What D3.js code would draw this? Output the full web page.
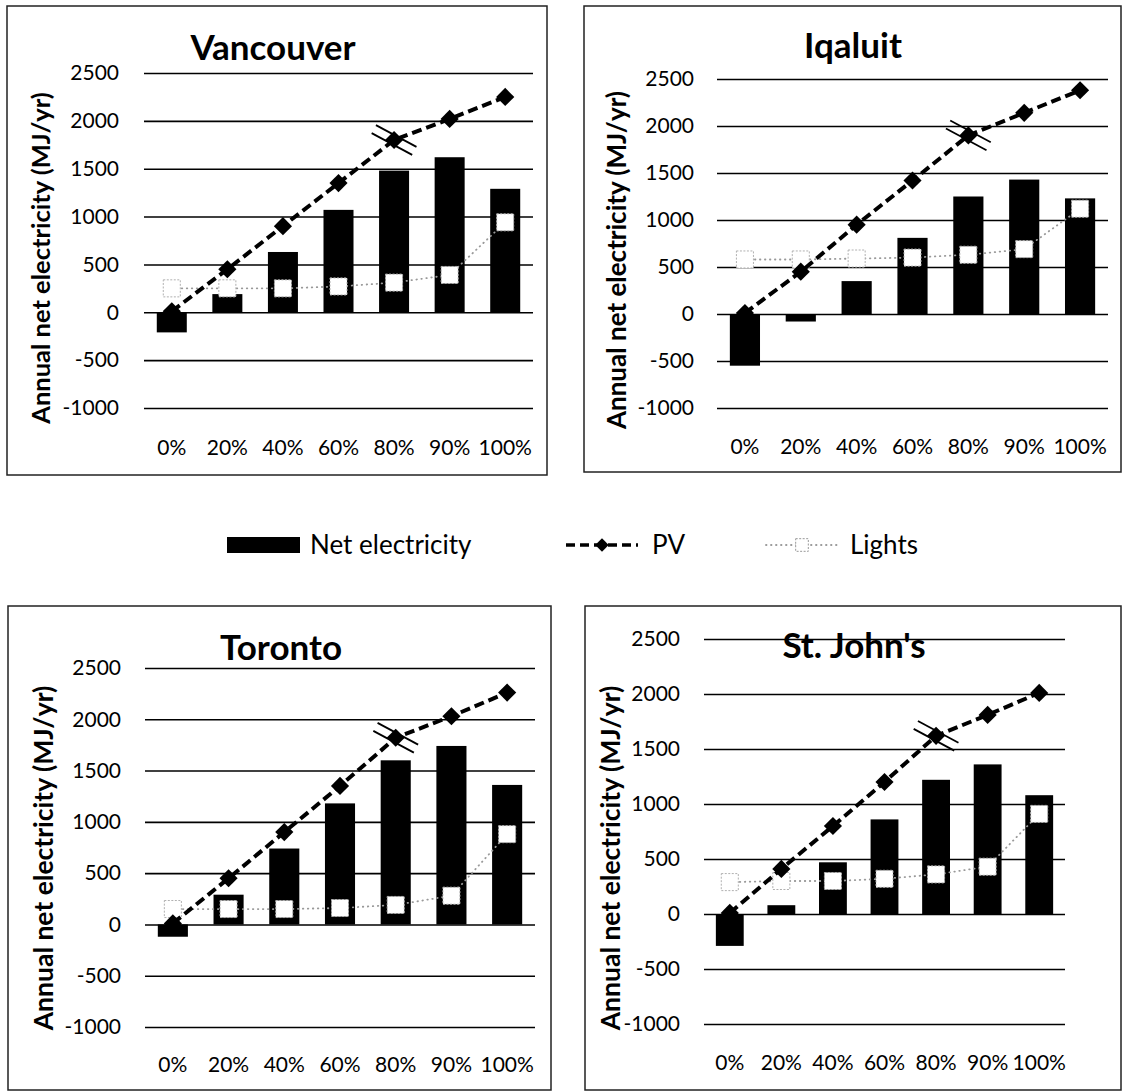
<!DOCTYPE html>
<html>
<head>
<meta charset="utf-8">
<script src="https://cdn.jsdelivr.net/npm/d3@7"></script>
<style>
  body { margin: 0; background: #fff; }
  svg { display: block; }
  text { font-family: Lato, "Open Sans", sans-serif; fill: #000; }
</style>
</head>
<body>
<div id="chart"></div>
<script>
// shading fraction of the window
const categories = ["0%", "20%", "40%", "60%", "80%", "90%", "100%"];
const yTicks = [-1000, -500, 0, 500, 1000, 1500, 2000, 2500];
const seriesNames = ["Net electricity", "PV", "Lights"];

// annual values, MJ/yr
const netVancouver = [-210, 190, 630, 1070, 1480, 1620, 1290];
const pvVancouver = [10, 450, 900, 1350, 1800, 2020, 2250];
const lightsVancouver = [250, 250, 250, 270, 310, 390, 940];

const netIqaluit = [-550, -80, 350, 810, 1250, 1430, 1230];
const pvIqaluit = [10, 450, 950, 1420, 1900, 2140, 2380];
const lightsIqaluit = [580, 580, 590, 600, 630, 690, 1120];

const netToronto = [-120, 290, 740, 1180, 1600, 1740, 1360];
const pvToronto = [10, 450, 900, 1350, 1820, 2030, 2260];
const lightsToronto = [150, 150, 150, 160, 190, 280, 880];

const netStJohns = [-290, 80, 470, 860, 1220, 1360, 1080];
const pvStJohns = [10, 410, 800, 1200, 1620, 1810, 2010];
const lightsStJohns = [290, 300, 300, 320, 360, 430, 910];

const breakAt = "80%";

const panels = [
  { city: "Vancouver", net: netVancouver, pv: pvVancouver, lights: lightsVancouver,
    frame: [7, 6, 547, 475], plot: [144, 533, 73, 408], title: [273, 60],
    yTitle: [41, 258, 25.5], tickRight: 119, xLab: 448 },
  { city: "Iqaluit", net: netIqaluit, pv: pvIqaluit, lights: lightsIqaluit,
    frame: [584, 6, 1121, 472], plot: [717, 1108, 79, 408], title: [853, 58],
    yTitle: [617, 260, 26], tickRight: 694, xLab: 447 },
  { city: "Toronto", net: netToronto, pv: pvToronto, lights: lightsToronto,
    frame: [8, 606, 551, 1090], plot: [145, 535, 668, 1027], title: [281, 660],
    yTitle: [43, 858, 26.5], tickRight: 121, xLab: 1065 },
  { city: "St. John's", net: netStJohns, pv: pvStJohns, lights: lightsStJohns,
    frame: [585, 606, 1121, 1090], plot: [704, 1065, 639, 1024], title: [854, 658],
    yTitle: [610, 858, 26.5], tickRight: 680, xLab: 1063 }
];

const svg = d3.select("#chart").append("svg")
  .attr("width", 1123)
  .attr("height", 1092);

panels.forEach(p => drawPanel(p));
drawLegend();

function drawPanel(p) {
  const [x0, x1, yTop, yBot] = p.plot;
  const g = svg.append("g");

  // frame
  g.append("rect")
    .attr("x", p.frame[0]).attr("y", p.frame[1])
    .attr("width", p.frame[2] - p.frame[0]).attr("height", p.frame[3] - p.frame[1])
    .attr("fill", "none").attr("stroke", "#222").attr("stroke-width", 1.5);

  const x = d3.scaleBand()
    .domain(categories)
    .range([x0, x1])
    .paddingInner(0.46)
    .paddingOuter(0.23);

  const y = d3.scaleLinear()
    .domain([-1000, 2500])
    .range([yBot, yTop]);

  const cx = c => x(c) + x.bandwidth() / 2;

  // Y axis with gridlines
  const yAxis = g.append("g")
    .attr("transform", "translate(" + x0 + ",0)")
    .call(d3.axisLeft(y).tickValues(yTicks).tickFormat(d => String(d))
      .tickSize(-(x1 - x0)).tickPadding(x0 - p.tickRight));
  yAxis.select(".domain").remove();
  yAxis.selectAll("line").attr("stroke", "#000").attr("stroke-width", 1.6);
  yAxis.selectAll("text").attr("font-size", 21).attr("font-family", "Lato").attr("fill", "#000");

  // X axis labels
  const xAxis = g.append("g")
    .attr("transform", "translate(0," + yBot + ")")
    .call(d3.axisBottom(x).tickSize(0).tickPadding(p.xLab - yBot - 8));
  xAxis.select(".domain").remove();
  xAxis.selectAll("text").attr("font-size", 21).attr("font-family", "Lato").attr("fill", "#000");

  // bars
  g.selectAll(".bar")
    .data(p.net)
    .enter()
    .append("rect")
    .attr("x", (d, i) => x(categories[i]))
    .attr("y", d => y(Math.max(0, d)))
    .attr("width", x.bandwidth())
    .attr("height", d => Math.abs(y(d) - y(0)))
    .attr("fill", "#000");

  // lights
  const line = d3.line()
    .x((d, i) => cx(categories[i]))
    .y(d => y(d));

  g.append("path")
    .datum(p.lights)
    .attr("d", line)
    .attr("fill", "none")
    .attr("stroke", "#999")
    .attr("stroke-width", 1.8)
    .attr("stroke-linecap", "round")
    .attr("stroke-dasharray", "0.5,4.5");

  g.selectAll(".light")
    .data(p.lights)
    .enter()
    .append("path")
    .attr("d", d3.symbol().type(d3.symbolSquare).size(290))
    .attr("transform", (d, i) => "translate(" + cx(categories[i]) + "," + y(d) + ")")
    .attr("fill", "#fff")
    .attr("stroke", "#b0b0b0")
    .attr("stroke-width", 1)
    .attr("stroke-dasharray", "2,1.5");

  // PV
  g.append("path")
    .datum(p.pv)
    .attr("d", line)
    .attr("fill", "none")
    .attr("stroke", "#000")
    .attr("stroke-width", 4)
    .attr("stroke-dasharray", "10,5");

  g.selectAll(".pv")
    .data(p.pv)
    .enter()
    .append("path")
    .attr("d", d3.symbol().type(d3.symbolSquare).size(165))
    .attr("transform", (d, i) => "translate(" + cx(categories[i]) + "," + y(d) + ") rotate(45)")
    .attr("fill", "#000");

  // break mark on the PV line
  const bi = categories.indexOf(breakAt);
  const bx = cx(breakAt), by = y(p.pv[bi]);
  const ux = 41 / 46.5, uy = 22 / 46.5;
  [-4.5, 4.5].forEach(o => {
    g.append("line")
      .attr("x1", bx - ux * 23 - uy * o).attr("y1", by - uy * 23 + ux * o)
      .attr("x2", bx + ux * 23 - uy * o).attr("y2", by + uy * 23 + ux * o)
      .attr("stroke", "#000").attr("stroke-width", 1.8);
  });

  // chart title
  g.append("text")
    .attr("x", p.title[0]).attr("y", p.title[1])
    .attr("text-anchor", "middle")
    .attr("font-size", 35).attr("font-weight", "bold")
    .text(p.city);

  // y axis title
  g.append("text")
    .attr("transform", "translate(" + p.yTitle[0] + "," + p.yTitle[1] + ") rotate(-90)")
    .attr("text-anchor", "middle")
    .attr("dy", "0.36em")
    .attr("font-size", p.yTitle[2]).attr("font-weight", "bold")
    .text("Annual net electricity (MJ/yr)");
}

function drawLegend() {
  const lg = svg.append("g");
  const ly = 545;

  lg.append("rect")
    .attr("x", 227).attr("y", ly - 8).attr("width", 73).attr("height", 16)
    .attr("fill", "#000");
  lg.append("text").attr("x", 310).attr("y", ly + 9)
    .attr("font-size", 26).attr("fill", "#111").text(seriesNames[0]);

  lg.append("line")
    .attr("x1", 566).attr("x2", 638).attr("y1", ly).attr("y2", ly)
    .attr("stroke", "#000").attr("stroke-width", 3.6).attr("stroke-dasharray", "9,5");
  lg.append("path")
    .attr("d", d3.symbol().type(d3.symbolSquare).size(90))
    .attr("transform", "translate(602," + ly + ") rotate(45)")
    .attr("fill", "#000");
  lg.append("text").attr("x", 652).attr("y", ly + 9)
    .attr("font-size", 26).attr("fill", "#111").text(seriesNames[1]);

  lg.append("line")
    .attr("x1", 766).attr("x2", 838).attr("y1", ly).attr("y2", ly)
    .attr("stroke", "#999").attr("stroke-width", 1.8)
    .attr("stroke-linecap", "round").attr("stroke-dasharray", "0.5,4.5");
  lg.append("path")
    .attr("d", d3.symbol().type(d3.symbolSquare).size(160))
    .attr("transform", "translate(802," + ly + ")")
    .attr("fill", "#fff").attr("stroke", "#999").attr("stroke-width", 1)
    .attr("stroke-dasharray", "2,1.5");
  lg.append("text").attr("x", 850).attr("y", ly + 9)
    .attr("font-size", 26).attr("fill", "#111").text(seriesNames[2]);
}
</script>
</body>
</html>
